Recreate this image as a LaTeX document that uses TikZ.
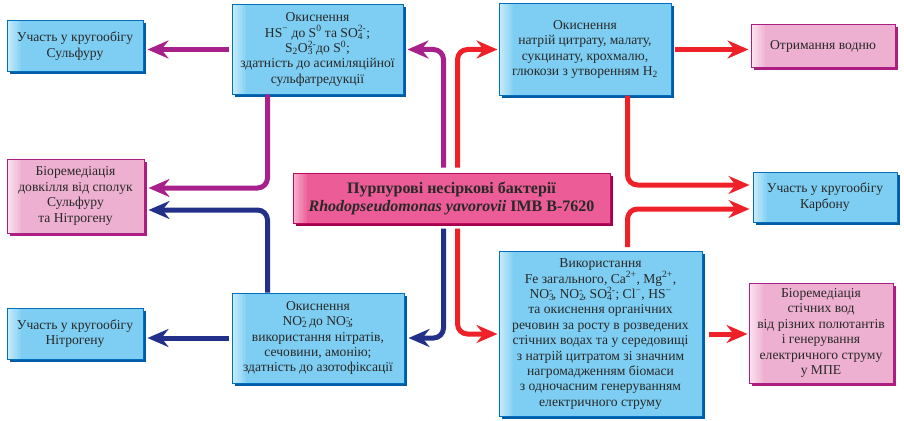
\documentclass[tikz,border=0pt]{standalone}
\usepackage{fontspec}
\setmainfont{Liberation Serif}
\usetikzlibrary{arrows.meta,shadows}
\definecolor{bfill}{RGB}{125,206,242}
\definecolor{bfillL}{RGB}{200,236,252}
\definecolor{bborder}{RGB}{0,112,190}
\definecolor{bshadow}{RGB}{0,92,165}
\definecolor{pfill}{RGB}{238,176,208}
\definecolor{pfillL}{RGB}{252,228,240}
\definecolor{pborder}{RGB}{172,30,130}
\definecolor{cfill}{RGB}{236,92,150}
\definecolor{cfillL}{RGB}{248,175,205}
\definecolor{cborder}{RGB}{190,10,95}
\definecolor{cshadow}{RGB}{165,0,80}
\definecolor{cmag}{RGB}{168,32,138}
\definecolor{cnavy}{RGB}{35,48,138}
\definecolor{cred}{RGB}{238,32,40}
\definecolor{txt}{RGB}{40,40,40}
\newcommand{\boxfont}{\fontsize{13.6}{15.4}\selectfont}
\newcommand{\cenfont}{\fontsize{16}{18}\selectfont\bfseries}
\newcommand{\chsup}[1]{\textsuperscript{#1}}
\newcommand{\chsub}[1]{\textsubscript{#1}}
\newcommand{\chboth}[2]{\rlap{\textsubscript{#1}}\textsuperscript{#2}}
\begin{document}
\begin{tikzpicture}[x=1pt,y=-1pt,
  basebox/.style={line width=1pt, text=txt, align=center, inner sep=2pt, font=\boxfont},
  glow/.style 2 args={path picture={\foreach \k [evaluate=\k as \p using int(100-\k*11)] in {0,...,9} {\fill[#1!\p!#2] ([xshift=\k*1.6pt]path picture bounding box.north west) rectangle ([xshift=\k*1.6pt+1.8pt]path picture bounding box.south west);}}},
  bluebox/.style={basebox, draw=bborder, fill=bfill, glow={bfillL}{bfill},
    drop shadow={shadow xshift=2.5pt, shadow yshift=-2.5pt, fill=bshadow, opacity=1}},
  pinkbox/.style={basebox, draw=pborder, fill=pfill, glow={pfillL}{pfill},
    drop shadow={shadow xshift=2.5pt, shadow yshift=-2.5pt, fill=pborder, opacity=1}},
  cenbox/.style={basebox, draw=cborder, fill=cfill, font=\cenfont, glow={cfillL}{cfill},
    drop shadow={shadow xshift=3pt, shadow yshift=-3pt, fill=cshadow, opacity=1}},
  conn/.style={line width=5pt, rounded corners=10pt, -{Stealth[length=21pt,width=18pt,inset=7pt]}},
  magc/.style={conn, draw=cmag},
  navyc/.style={conn, draw=cnavy},
  redc/.style={conn, draw=cred}
]
\useasboundingbox (0,0) rectangle (904,420);

\node[bluebox, minimum width=136pt, minimum height=50pt] (s1) at (75,46) {Участь у кругообігу\\Сульфуру};
\node[bluebox, minimum width=171pt, minimum height=89pt] (sox) at (317.5,49.5) {Окиснення\\HS\chsup{−} до S\chsup{0} та SO\chboth{4}{2-};\\S\chsub{2}O\chboth{3}{2-}до S\chsup{0};\\здатність до асиміляційної\\сульфатредукції};
\node[bluebox, minimum width=172pt, minimum height=91pt] (nox) at (585,49.5) {Окиснення\\натрій цитрату, малату,\\сукцинату, крохмалю,\\глюкози з утворенням H\chsub{2}};
\node[pinkbox, minimum width=144pt, minimum height=42pt] (h2) at (823,46) {Отримання водню};
\node[pinkbox, minimum width=137pt, minimum height=74pt] (bio1) at (75.5,196) {Біоремедіація\\довкілля від сполук\\Сульфуру\\та Нітрогену};
\node[cenbox, minimum width=317pt, minimum height=50pt] (cen) at (451.5,198) {Пурпурові несіркові бактерії\\\textit{Rhodopseudomonas yavorovii} IMB B-7620};
\node[bluebox, minimum width=144pt, minimum height=50pt] (carb) at (825,197) {Участь у кругообігу\\Карбону};
\node[bluebox, minimum width=136pt, minimum height=51pt] (n1) at (75,333.5) {Участь у кругообігу\\Нітрогену};
\node[bluebox, minimum width=172pt, minimum height=90pt] (nit) at (318,338) {Окиснення\\NO\chboth{2}{-} до NO\chboth{3}{-};\\використання нітратів,\\сечовини, амонію;\\здатність до азотофіксації};
\node[bluebox, minimum width=203pt, minimum height=165pt] (use) at (600.5,334) {Використання\\Fe загального, Ca\chsup{2+}, Mg\chsup{2+},\\NO\chboth{3}{-}, NO\chboth{2}{-}, SO\chboth{4}{2-}; Cl\chsup{−}, HS\chsup{−}\\та окиснення органічних\\речовин за росту в розведених\\стічних водах та у середовищі\\з натрій цитратом зі значним\\нагромадженням біомаси\\з одночасним генеруванням\\електричного струму};
\node[pinkbox, minimum width=144pt, minimum height=100pt] (bio2) at (821,333) {Біоремедіація\\стічних вод\\від різних полютантів\\і генерування\\електричного струму\\у МПЕ};

% connectors
\draw[magc, shorten <=3pt, shorten >=4pt] (sox.west) -- (s1.east |- sox.west);
\draw[magc, shorten <=5pt, shorten >=4pt] ([xshift=151pt]cen.north west) |- (sox.east);
\draw[redc, shorten <=5pt, shorten >=1pt] ([xshift=165pt]cen.north west) |- (nox.west);
\draw[redc, shorten <=3pt, shorten >=2pt] (nox.east) -- (h2.west |- nox.east);
\draw[magc, shorten >=4pt] ([xshift=36pt]sox.south west) |- ([yshift=8pt]bio1.east);
\draw[navyc, shorten >=4pt] ([xshift=36pt]nit.north west) |- ([yshift=-14pt]bio1.east);
\draw[navyc, shorten <=5pt, shorten >=4pt] ([xshift=151pt]cen.south west) |- (nit.east);
\draw[redc, shorten <=5pt, shorten >=1pt] ([xshift=165pt]cen.south west) |- (use.west);
\draw[navyc, shorten <=3pt, shorten >=4pt] (nit.west) -- (n1.east |- nit.west);
\draw[redc, shorten <=6pt, shorten >=1pt] (use.east) -- (bio2.west |- use.east);
\draw[redc, shorten >=3pt] ([xshift=129pt]nox.south west) |- ([yshift=12pt]carb.west);
\draw[redc, shorten <=4pt, shorten >=3pt] ([xshift=129pt]use.north west) |- ([yshift=-12pt]carb.west);
\end{tikzpicture}
\end{document}
